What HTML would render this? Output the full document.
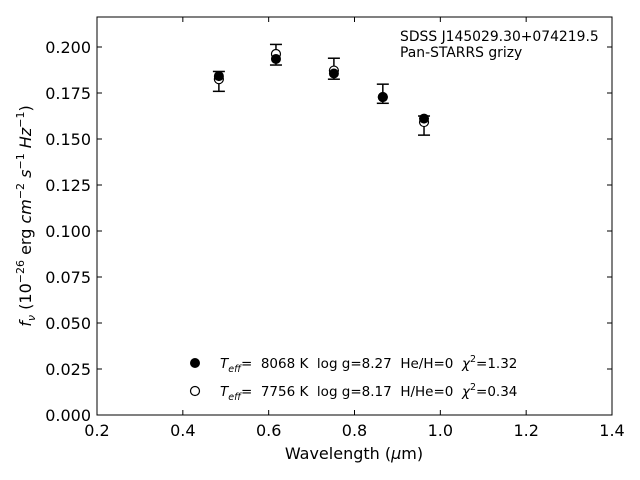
<!DOCTYPE html>
<html><head><meta charset="utf-8"><style>
body{margin:0;background:#fff}
svg{display:block;font-family:"DejaVu Sans","Liberation Sans",sans-serif}
text{white-space:pre}
</style></head><body>
<svg id="chart" width="640" height="480">
<rect x="97" y="17" width="515" height="398" fill="none" stroke="#000" stroke-width="1"/>
<g id="ticks"></g>
<g id="marks"></g>
<text x="354" y="459" font-size="16" text-anchor="middle">Wavelength (<tspan font-style="italic">μ</tspan>m)</text>
<text transform="translate(31,216) rotate(-90)" font-size="16" text-anchor="middle"><tspan font-style="italic">f</tspan><tspan font-style="italic" font-size="11" dy="4">ν</tspan><tspan dy="-4"> (10</tspan><tspan font-size="11" dy="-7">−26</tspan><tspan dy="7"> erg </tspan><tspan font-style="italic">cm</tspan><tspan font-size="11" dy="-7">−2</tspan><tspan dy="7"> </tspan><tspan font-style="italic">s</tspan><tspan font-size="11" dy="-7">−1</tspan><tspan dy="7"> </tspan><tspan font-style="italic">Hz</tspan><tspan font-size="11" dy="-7">−1</tspan><tspan dy="7">)</tspan></text>
<text x="400" y="41" font-size="13.9">SDSS J145029.30+074219.5</text>
<text x="400" y="57" font-size="13.9">Pan-STARRS grizy</text>
<g>
<circle cx="195" cy="363" r="5" fill="#000"/>
<text x="220" y="368" font-size="13.5"><tspan font-style="italic">T</tspan><tspan font-style="italic" font-size="9.5" dy="4">eff</tspan><tspan dy="-4">=  8068 K  log g=8.27  He/H=0  </tspan><tspan font-style="italic">χ</tspan><tspan font-size="9.5" dy="-6">2</tspan><tspan dy="6">=1.32</tspan></text>
<circle cx="195" cy="391" r="4.5" fill="#fff" stroke="#000" stroke-width="1.2"/>
<text x="220" y="396" font-size="13.5"><tspan font-style="italic">T</tspan><tspan font-style="italic" font-size="9.5" dy="4">eff</tspan><tspan dy="-4">=  7756 K  log g=8.17  H/He=0  </tspan><tspan font-style="italic">χ</tspan><tspan font-size="9.5" dy="-6">2</tspan><tspan dy="6">=0.34</tspan></text>
</g>
</svg>
<script>
const wavelengths=[0.484,0.617,0.752,0.866,0.962];
const obsFlux=[0.1813,0.1958,0.1882,0.1746,0.1573];
const obsErr=[0.0054,0.0056,0.0057,0.0052,0.0052];
const modelHeH=[0.1842,0.1935,0.1856,0.1728,0.1611];
const modelHHe=[0.1825,0.1962,0.1872,0.1728,0.1592];
const xTicks=[0.2,0.4,0.6,0.8,1.0,1.2,1.4];
const yTicks=[0,0.025,0.05,0.075,0.1,0.125,0.15,0.175,0.2];
const NS="http://www.w3.org/2000/svg";
const X0=97,X1=612,Y0=415,Y1=17;
function xs(v){return X0+(v-0.2)/1.2*(X1-X0);}
function ys(v){return Y0-v*1840;}
function mk(tag,attrs,parent){const e=document.createElementNS(NS,tag);for(const k in attrs)e.setAttribute(k,attrs[k]);parent.appendChild(e);return e;}
const tg=document.getElementById('ticks');
xTicks.forEach(t=>{const x=xs(t);
 const l=mk('line',{x1:x,x2:x,y1:Y0,y2:Y0-5,stroke:'#000'},tg);
 
 
 const l2=mk('line',{x1:x,x2:x,y1:Y1,y2:Y1+5,stroke:'#000'},tg);
 
 
 const tx=mk('text',{x:x,y:Y0+21,'font-size':16,'text-anchor':'middle'},tg);tx.textContent=t.toFixed(1);
 
 
});
yTicks.forEach(t=>{const y=ys(t);
 const l=mk('line',{x1:X0,x2:X0+5,y1:y,y2:y,stroke:'#000'},tg);
 
 
 const l2=mk('line',{x1:X1,x2:X1-5,y1:y,y2:y,stroke:'#000'},tg);
 
 
 const tx=mk('text',{x:X0-6,y:y+6,'font-size':16,'text-anchor':'end'},tg);tx.textContent=t.toFixed(3);
 
 
});
const mg=document.getElementById('marks');
wavelengths.forEach((w,i)=>{const x=xs(w);
 const top=ys(obsFlux[i]+obsErr[i]),bot=ys(obsFlux[i]-obsErr[i]);
 const g=mk('g',{stroke:'#000','stroke-width':1.5},mg);
 
 
 mk('line',{x1:x,x2:x,y1:top,y2:bot},g);
 mk('line',{x1:x-6,x2:x+6,y1:top,y2:top},g);
 mk('line',{x1:x-6,x2:x+6,y1:bot,y2:bot},g);
 const o=mk('circle',{cx:x,cy:ys(modelHHe[i]),r:4.5,fill:'#fff',stroke:'#000','stroke-width':1.2},mg);
 
 
 const f=mk('circle',{cx:x,cy:ys(modelHeH[i]),r:5,fill:'#000'},mg);
 
 
});
</script>
</body></html>
